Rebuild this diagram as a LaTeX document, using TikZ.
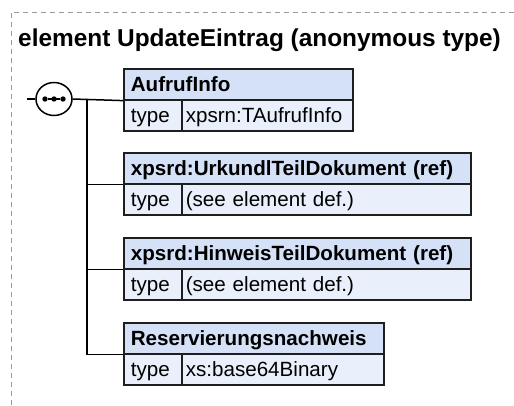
\documentclass[tikz,border=0pt]{standalone}
\usepackage{fontspec}
\usetikzlibrary{shapes.geometric}
\setmainfont{Liberation Sans}
\definecolor{hdrfill}{HTML}{D4E1F6}
\definecolor{rowfill}{HTML}{E9F0FB}
\definecolor{boxline}{HTML}{1E1E1E}
\definecolor{framegray}{HTML}{9A9A9A}
\tikzset{
  boxtext/.style={font=\fontsize{20.6}{24}\selectfont, text height=15pt, text depth=0pt},
  hdr/.style={boxtext, draw=boxline, fill=hdrfill, line width=1.6pt, anchor=north west,
    minimum height=31pt, inner xsep=7pt, inner ysep=0pt, text width=#1, align=left,
    font=\fontsize{20.6}{24}\selectfont\bfseries},
  typecell/.style={boxtext, draw=boxline, fill=rowfill, line width=1.6pt, anchor=north west,
    minimum height=31pt, inner xsep=7pt, inner ysep=0pt, text width=44pt, align=left},
  valcell/.style={boxtext, draw=boxline, fill=rowfill, line width=1.6pt, anchor=north west,
    minimum height=31pt, inner xsep=4pt, inner ysep=0pt, text width=#1, align=left},
  conn/.style={draw=black, line width=1.5pt},
  frameline/.style={draw=framegray, line width=0.9pt, dash pattern=on 5pt off 4pt},
  seqcirc/.style={ellipse, draw=black, fill=white, line width=1.5pt, minimum width=36pt, minimum height=33pt, inner sep=0pt},
  dot/.style={circle, fill=black, inner sep=0pt, minimum size=5.4pt}
}
\begin{document}
\begin{tikzpicture}[x=1pt,y=-1pt]
\useasboundingbox (0,0) rectangle (514,405);
\draw[frameline] (11,405) -- (11,12) -- (514,12);
\node[anchor=base west, inner sep=0pt, font=\fontsize{24.4}{28}\selectfont\bfseries] (title) at (18,46) {element UpdateEintrag (anonymous type)};

% box 1
\node[hdr=215pt] (h1) at (123,68) {AufrufInfo};
\node[typecell] (t1) at (123,99) {type};
\node[valcell=163pt] (v1) at (181,99) {xpsrn:TAufrufInfo};
% box 2
\node[hdr=333pt] (h2) at (123,152) {xpsrd:UrkundlTeilDokument (ref)};
\node[typecell] (t2) at (123,183) {type};
\node[valcell=281pt] (v2) at (181,183) {(see element def.)};
% box 3
\node[hdr=333pt] (h3) at (123,237) {xpsrd:HinweisTeilDokument (ref)};
\node[typecell] (t3) at (123,268) {type};
\node[valcell=281pt] (v3) at (181,268) {(see element def.)};
% box 4
\node[hdr=246pt] (h4) at (123,322) {Reservierungsnachweis};
\node[typecell] (t4) at (123,353) {type};
\node[valcell=194pt] (v4) at (181,353) {xs:base64Binary};

% sequence compositor
\coordinate (in) at (27,99);
\node[seqcirc] (seq) at (54,99) {};
\node[dot] (d1) at (45,99) {};
\node[dot] (d2) at (54,99) {};
\node[dot] (d3) at (63,99) {};
\draw[line width=1.2pt] (d1) -- (d3);
\coordinate (j) at (87,99);

\draw[conn] (in) -- (seq.west);
\draw[conn] (seq.east) -- (h1.south west);
\draw[conn] (j) |- (h4.south west);
\draw[conn] (j |- h2.south west) -- (h2.south west);
\draw[conn] (j |- h3.south west) -- (h3.south west);
\end{tikzpicture}
\end{document}
